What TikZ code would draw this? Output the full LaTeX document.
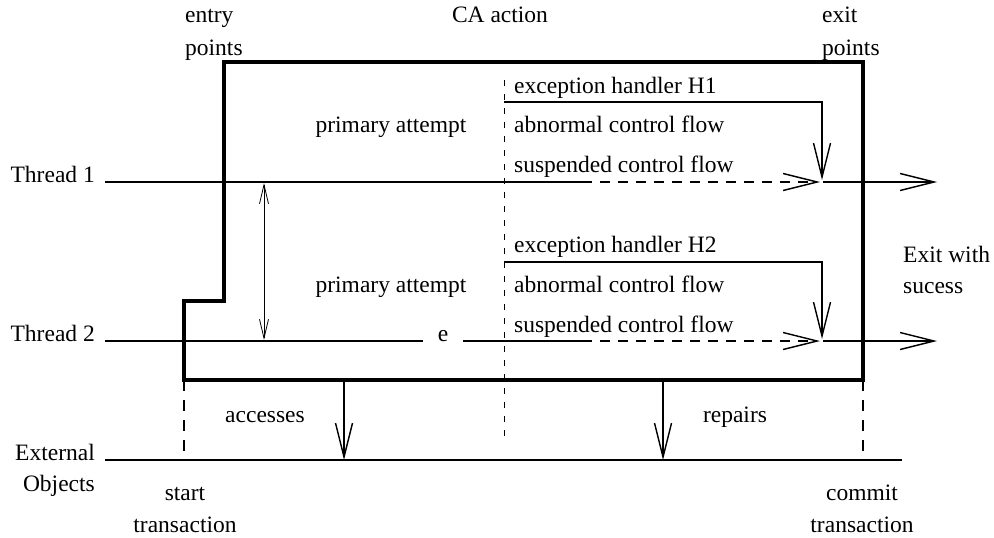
\documentclass[tikz,border=0pt]{standalone}
\usepackage{fontspec}
\setmainfont{Liberation Serif}
\usetikzlibrary{arrows.meta}
\begin{document}
\begin{tikzpicture}[x=1pt,y=-1pt,
  lbl/.style={inner sep=0pt,font=\fontsize{23.5}{32}\selectfont,align=left},
  flow/.style={line width=1.4pt},
  bigtip/.style={-{Straight Barb[length=34pt,width=17pt,line width=1.4pt]}},
  dashflow/.style={flow,dash pattern=on 10pt off 8pt},
  boxline/.style={line width=3.6pt,line join=miter},
  divider/.style={line width=0.8pt,dash pattern=on 6pt off 8pt},
  txline/.style={line width=2pt,dash pattern=on 11pt off 9pt}]
\useasboundingbox (0,0) rectangle (994,538);

% headings above the action
\node[lbl,anchor=base west] (entry) at (185,23) {entry};
\node[lbl,anchor=base west] (entryp) at (185,55) {points};
\node[lbl,anchor=base] (ca) at (500,23) {CA action};
\node[lbl,anchor=base west] (exit) at (822,23) {exit};
\node[lbl,anchor=base west] (exitp) at (822,55) {points};

% the CA action boundary
\draw[boxline] (224,62) -- (863,62) -- (863,380) -- (184,380) -- (184,301) -- (224,301) -- cycle;

% divider between primary attempt and handlers
\coordinate (dtop) at (504,80);
\coordinate (dbot) at (504,440);
\draw[divider] (dtop) -- (dbot);

% thread labels
\node[lbl,anchor=base east] (t1) at (95,182) {Thread 1};
\node[lbl,anchor=base east] (t2) at (95,341) {Thread 2};

% thread 1
\coordinate (a1) at (105,182);
\coordinate (b1) at (582,182);
\coordinate (c1) at (820,182);
\coordinate (d1) at (823,182);
\coordinate (e1) at (937,182);
\draw[flow] (a1) -- (b1);
\draw[dashflow,bigtip] (b1) -- (c1);
\draw[flow,bigtip] (d1) -- (e1);

% thread 2 with the exception raised
\node[lbl,anchor=base] (exc) at (443,341) {e};
\coordinate (a2) at (105,341);
\coordinate (a2e) at (423,341);
\coordinate (a2s) at (463,341);
\coordinate (b2) at (582,341);
\coordinate (c2) at (820,341);
\coordinate (d2) at (823,341);
\coordinate (e2) at (937,341);
\draw[flow] (a2) -- (a2e);
\draw[flow] (a2s) -- (b2);
\draw[dashflow,bigtip] (b2) -- (c2);
\draw[flow,bigtip] (d2) -- (e2);

% coordination between the threads
\coordinate (s1) at (264,183);
\coordinate (s2) at (264,340);
\draw[line width=0.8pt,{Straight Barb[length=19pt,width=9pt,line width=0.8pt]}-{Straight Barb[length=19pt,width=9pt,line width=0.8pt]}] (s1) -- (s2);

% handler paths
\coordinate (h1a) at (504,102);
\coordinate (h1b) at (822,102);
\coordinate (h1c) at (822,180);
\draw[flow,bigtip] (h1a) -- (h1b) -- (h1c);
\coordinate (h2a) at (504,262);
\coordinate (h2b) at (822,262);
\coordinate (h2c) at (822,339);
\draw[flow,bigtip] (h2a) -- (h2b) -- (h2c);

% texts inside the action
\node[lbl,anchor=base] (pa1) at (391,132) {primary attempt};
\node[lbl,anchor=base west] (eh1) at (514,93) {exception handler H1};
\node[lbl,anchor=base west] (ab1) at (514,132) {abnormal control flow};
\node[lbl,anchor=base west] (su1) at (514,172) {suspended control flow};
\node[lbl,anchor=base] (pa2) at (391,292) {primary attempt};
\node[lbl,anchor=base west] (eh2) at (514,252) {exception handler H2};
\node[lbl,anchor=base west] (ab2) at (514,292) {abnormal control flow};
\node[lbl,anchor=base west] (su2) at (514,332) {suspended control flow};

\node[lbl,anchor=base west] (ok) at (903,262) {Exit with};
\node[lbl,anchor=base west] (ok2) at (903,293) {sucess};

% external objects
\node[lbl,anchor=base east] (ext) at (95,460) {External};
\node[lbl,anchor=base east] (obj) at (95,491) {Objects};
\coordinate (xa) at (105,460);
\coordinate (xb) at (902,460);
\draw[flow] (xa) -- (xb);

\coordinate (acc1) at (344,380);
\coordinate (acc2) at (344,460);
\draw[flow,bigtip] (acc1) -- (acc2);
\node[lbl,anchor=base] (acc) at (265,422) {accesses};
\coordinate (rep1) at (663,380);
\coordinate (rep2) at (663,460);
\draw[flow,bigtip] (rep1) -- (rep2);
\node[lbl,anchor=base] (rep) at (735,422) {repairs};

% transaction boundaries
\coordinate (st1) at (184,380);
\coordinate (st2) at (184,460);
\draw[txline] (st1) -- (st2);
\coordinate (ct1) at (863,380);
\coordinate (ct2) at (863,460);
\draw[txline] (ct1) -- (ct2);
\node[lbl,anchor=base] (start) at (185,500) {start};
\node[lbl,anchor=base] (startt) at (185,532) {transaction};
\node[lbl,anchor=base] (commit) at (862,500) {commit};
\node[lbl,anchor=base] (committ) at (862,532) {transaction};
\end{tikzpicture}
\end{document}
